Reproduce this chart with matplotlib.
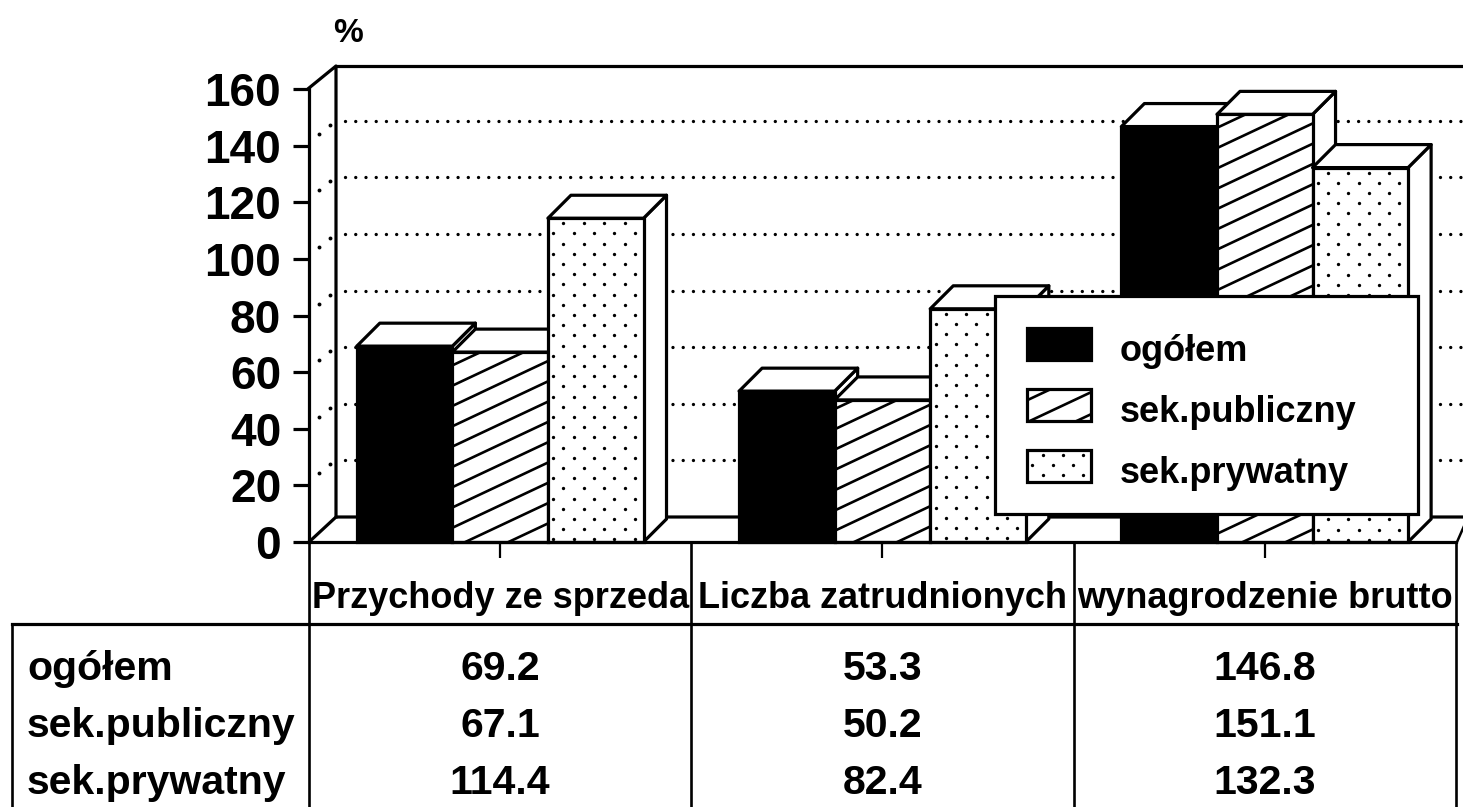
#!/usr/bin/env python3
# -*- coding: utf-8 -*-
import numpy as np
import matplotlib
matplotlib.use("Agg")
import matplotlib.pyplot as plt
from matplotlib.collections import LineCollection
from matplotlib.patches import Polygon, Rectangle
from matplotlib.transforms import Affine2D

W, H = 1463, 807
plt.rcParams["font.family"] = ["Liberation Sans", "DejaVu Sans"]
plt.rcParams["font.weight"] = "bold"

# --------------------------------------------------------------------------- #
#  Data
# --------------------------------------------------------------------------- #
categories = ["Przychody ze sprzeda", "Liczba zatrudnionych", "wynagrodzenie brutto"]
series_names = ["ogółem", "sek.publiczny", "sek.prywatny"]
ogolem = [69.2, 53.3, 146.8]
publiczny = [67.1, 50.2, 151.1]
prywatny = [114.4, 82.4, 132.3]
yticks = list(range(0, 161, 20))

# --------------------------------------------------------------------------- #
#  Layout (pixels)
# --------------------------------------------------------------------------- #
X0, Y0 = 309, 542      # chart origin
CAT_W = 382.3          # one category
Y_SCALE = 2.83         # px per 1 %
WALL_DX, WALL_DY = 27, 25
BAR_DX, BAR_DY = 23, 23
LW = 2.3

fig = plt.figure(figsize=(W / 100, H / 100), dpi=100)
ax = fig.add_axes([0, 0, 1, 1])
ax.set_xlim(-X0 / CAT_W, (W - X0) / CAT_W)
ax.set_ylim((Y0 - H) / Y_SCALE, Y0 / Y_SCALE)
ax.set_autoscale_on(False)
ax.set_facecolor("white")
PX = Affine2D().scale(1, -1).translate(0, H)   # top-left pixel coords


def px_line(xs, ys, lw=LW, z=1, **kw):
    ax.plot(xs, ys, color="black", lw=lw, transform=PX, zorder=z,
            solid_capstyle="projecting", **kw)


def hatch_lines(patch, x0, x1, y0, y1, spacing=20.3, slope=0.47, phase=9.6, z=4):
    cs = np.arange(phase, y1 + slope * x1 + spacing, spacing)
    segs = [[(x0, c - slope * x0), (x1, c - slope * x1)] for c in cs]
    lc = LineCollection(segs, colors="black", linewidths=1.9, transform=PX, zorder=z)
    ax.add_collection(lc, autolim=False)
    lc.set_clip_path(patch)


def dots(patch, x0, x1, y0, y1, z=4):
    xs, ys = [], []
    for i, y in enumerate(np.arange(y0 + 5, y1, 10.2)):
        start = x0 + 5.3 + (10.2 if i % 2 == 0 else 0)
        for x in np.arange(start, x1, 20.4):
            xs.append(x)
            ys.append(y)
    line, = ax.plot(xs, ys, ls="none", marker="o", ms=2.4, color="black",
                    mew=0, transform=PX, zorder=z)
    line.set_clip_path(patch)


def bar3d(left, width, value, style, z):
    right = left + width
    ddx, ddy = BAR_DX / CAT_W, BAR_DY / Y_SCALE
    side = [(right, 0), (right + ddx, ddy), (right + ddx, value + ddy), (right, value)]
    top = [(left, value), (left + ddx, value + ddy), (right + ddx, value + ddy), (right, value)]
    for pts in (side, top):
        ax.add_patch(Polygon(pts, closed=True, fc="white", ec="black", lw=LW,
                             joinstyle="round", zorder=z))
    face = Rectangle((left, 0), width, value, fc="black" if style == "solid" else "white",
                     ec="black", lw=LW, zorder=z)
    ax.add_patch(face)
    x0_px, x1_px = X0 + left * CAT_W, X0 + right * CAT_W
    y0_px, y1_px = Y0 - value * Y_SCALE, Y0
    if style == "hatch":
        hatch_lines(face, x0_px, x1_px, y0_px, y1_px, z=z)
    elif style == "dots":
        dots(face, x0_px, x1_px, y0_px, y1_px, z=z)


# --------------------------------------------------------------------------- #
#  Walls, floor, gridlines
# --------------------------------------------------------------------------- #
back_x = X0 + WALL_DX
back_floor = Y0 - WALL_DY
px_line([X0, back_x, back_x], [88, 66, back_floor])
px_line([back_x, W + 5], [66, 66])
px_line([X0, back_x, W + 5], [Y0, back_floor, back_floor])
px_line([1457, W + 5], [Y0, Y0 - 25], lw=1.8)
for t in yticks[1:-1]:
    gy = back_floor - t * Y_SCALE
    ax.plot([back_x + 9, W + 5], [gy, gy], color="black", lw=2.4,
            dashes=(0.01, 3.06), dash_capstyle="round", transform=PX, zorder=1)
    ax.plot([back_x - 17, back_x - 6], [gy + 13, gy + 4], ls="none", marker="o",
            ms=2.8, mew=0, color="black", transform=PX, zorder=1)

# --------------------------------------------------------------------------- #
#  Bars
# --------------------------------------------------------------------------- #
bar_w = 0.25
for i in range(len(categories)):
    bar3d(i + 0.125, bar_w, ogolem[i], "solid", 3)
    bar3d(i + 0.375, bar_w, publiczny[i], "hatch", 4)
    bar3d(i + 0.625, bar_w, prywatny[i], "dots", 5)

# --------------------------------------------------------------------------- #
#  Axes
# --------------------------------------------------------------------------- #
for s in ("top", "right"):
    ax.spines[s].set_visible(False)
ax.spines["left"].set_position(("data", 0))
ax.spines["bottom"].set_position(("data", 0))
ax.spines["left"].set_bounds(0, 160)
ax.spines["bottom"].set_bounds(0, 3)
ax.spines["left"].set_linewidth(LW)
ax.spines["bottom"].set_linewidth(LW)
ax.spines["left"].set_zorder(2)
ax.spines["bottom"].set_zorder(6)
ax.set_yticks(yticks)
ax.set_xticks([0.5, 1.5, 2.5])
ax.set_xticklabels([])
ax.tick_params(axis="y", length=11.5, width=LW, pad=8.5, labelsize=33)
ax.tick_params(axis="x", length=11.5, width=1.6)
ax.text(348, 33, "%", transform=PX, fontsize=24, ha="center", va="center")

# --------------------------------------------------------------------------- #
#  Data table
# --------------------------------------------------------------------------- #
for xv in [0, 1, 2, 3]:
    px_line([X0 + xv * CAT_W] * 2, [Y0, H + 5], lw=1.9, z=6)
px_line([12, 12], [624, H + 5], lw=1.9, z=6)
px_line([12, 1457], [624, 624], z=6)
for i, name in enumerate(categories):
    ax.text(i + 0.5, (Y0 - 608) / Y_SCALE, name, ha="center", va="baseline",
            fontsize=26, zorder=6)
rows = [ogolem, publiczny, prywatny]
row_base = [680, 737, 794]
for name, vals, ry in zip(series_names, rows, row_base):
    ax.text(27, ry, name, transform=PX, ha="left", va="baseline", fontsize=29.5, zorder=6)
    for i, v in enumerate(vals):
        ax.text(i + 0.5, (Y0 - ry) / Y_SCALE, f"{v:.1f}", ha="center", va="baseline",
                fontsize=29.5, zorder=6)

# --------------------------------------------------------------------------- #
#  Legend
# --------------------------------------------------------------------------- #
ax.add_patch(Rectangle((995, 296), 423, 218, fc="white", ec="black", lw=LW,
                       transform=PX, zorder=10))
swatch_y = [328, 389, 450]
styles = ["solid", "hatch", "dots"]
for name, style, sy in zip(series_names, styles, swatch_y):
    sw = Rectangle((1027, sy), 64, 32, fc="black" if style == "solid" else "white",
                   ec="black", lw=LW, transform=PX, zorder=11)
    ax.add_patch(sw)
    if style == "hatch":
        hatch_lines(sw, 1027, 1091, sy, sy + 32, spacing=22, phase=3.0, z=12)
    elif style == "dots":
        dots(sw, 1027, 1091, sy, sy + 32, z=12)
    ax.text(1120, sy + 33, name, transform=PX, ha="left", va="baseline",
            fontsize=26, zorder=12)

fig.savefig("out.png", dpi=100, facecolor="white")
